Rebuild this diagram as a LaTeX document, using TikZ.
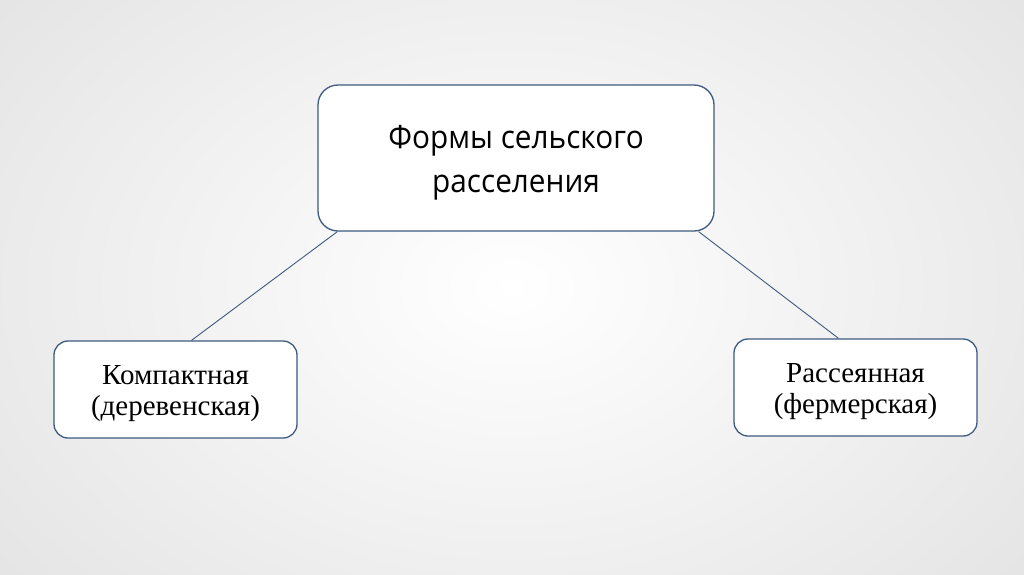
\documentclass[tikz,border=0pt]{standalone}
\usepackage{fontspec}
\setmainfont{Liberation Serif}
\newfontfamily\topfont[FakeStretch=0.93]{Open Sans}
\usetikzlibrary{positioning}
\definecolor{edge}{HTML}{3E5A80}
\newcommand{\mystrut}{\rule{0pt}{27pt}}
\newcommand{\topstrut}{\rule{0pt}{32pt}}
\tikzset{
  box/.style={draw=edge, line width=1.3pt, fill=white, rounded corners=20pt, align=center},
  smallbox/.style={box, minimum width=243pt, minimum height=97pt, rounded corners=14pt,
    font=\fontsize{29}{31}\selectfont},
  conn/.style={draw=edge, line width=0.9pt},
}
\begin{document}
\begin{tikzpicture}[x=1pt,y=-1pt]
\useasboundingbox (0,0) rectangle (1024,574);
\shade[inner color=white, outer color=black!12] (-250,-250) rectangle (1274,824);
\node[box, minimum width=396pt, minimum height=146pt, font=\topfont\fontsize{32}{44}\selectfont] (top) at (516,158) {\topstrut Формы сельского\\расселения};
\node[smallbox] (left) at (175.5,389.5) {\mystrut Компактная\\(деревенская)};
\node[smallbox] (right) at (855.5,387.5) {\mystrut Рассеянная\\(фермерская)};
\draw[conn] ([xshift=20pt]top.south west) -- ([xshift=16pt]left.north);
\draw[conn] ([xshift=-16pt]top.south east) -- ([xshift=-17pt]right.north);
\end{tikzpicture}
\end{document}
